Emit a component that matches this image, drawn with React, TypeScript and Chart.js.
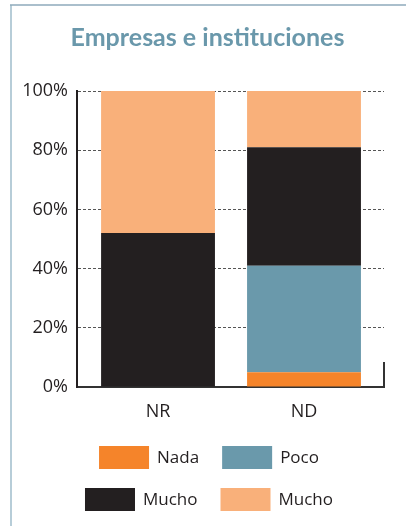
import React, { useEffect, useRef } from 'react';
import { Chart, registerables } from 'chart.js';

Chart.register(...registerables);

const titleText = 'Empresas e instituciones';
const categories = ['NR', 'ND'];
const seriesLabels = ['Nada', 'Poco', 'Mucho', 'Mucho'];
const nadaValues = [0, 5];
const pocoValues = [0, 36];
const muchoDarkValues = [52, 40];
const muchoLightValues = [48, 19];
const seriesColors = ['#f5842a', '#6a99ab', '#231f20', '#f9b07a'];
const yMin = 0;
const yMax = 100;
const yStep = 20;

const TEXT = '#231f20';
const FONT = '"Open Sans", "Noto Sans", sans-serif';

const decorPlugin = {
  id: 'decor',
  beforeDraw(chart: any) {
    const ctx = chart.ctx;
    ctx.save();
    ctx.fillStyle = '#ffffff';
    ctx.fillRect(0, 0, chart.width, chart.height);
    ctx.strokeStyle = '#b7cdd8';
    ctx.lineWidth = 2;
    ctx.beginPath();
    ctx.moveTo(11, 5);
    ctx.lineTo(11, chart.height);
    ctx.stroke();
    ctx.strokeStyle = '#8eaabb';
    ctx.lineWidth = 1.5;
    ctx.beginPath();
    ctx.moveTo(10, 5);
    ctx.lineTo(chart.width, 5);
    ctx.stroke();
    ctx.restore();
  },
  afterDraw(chart: any) {
    const ctx = chart.ctx;
    const area = chart.chartArea;
    ctx.save();
    // small closing tick at the right end of the x axis
    ctx.strokeStyle = '#333333';
    ctx.lineWidth = 2;
    ctx.beginPath();
    ctx.moveTo(area.right, area.bottom - 25);
    ctx.lineTo(area.right, area.bottom + 1);
    ctx.stroke();

    // two-row legend
    const ds = chart.data.datasets;
    const rows = [[0, 1], [2, 3]];
    const rowTops = [446, 488];
    const boxW = 50;
    const boxH = 23;
    const gapText = 8;
    const gapItem = 23;
    const centerX = 209;
    ctx.font = '17px ' + FONT;
    ctx.textBaseline = 'middle';
    ctx.textAlign = 'left';
    rows.forEach((row, ri) => {
      const widths = row.map((i) => boxW + gapText + ctx.measureText(ds[i].label).width);
      const total = widths.reduce((a, b) => a + b, 0) + gapItem * (row.length - 1);
      let x = centerX - total / 2;
      row.forEach((i, k) => {
        const top = rowTops[ri];
        ctx.fillStyle = ds[i].backgroundColor;
        ctx.fillRect(x, top, boxW, boxH);
        ctx.fillStyle = TEXT;
        ctx.fillText(ds[i].label, x + boxW + gapText, top + boxH / 2 + 1);
        x += widths[k] + gapItem;
      });
    });
    ctx.restore();
  },
};

export default function App() {
  const canvasRef = useRef<HTMLCanvasElement | null>(null);

  useEffect(() => {
    const canvas = canvasRef.current;
    if (!canvas) return;
    const values = [nadaValues, pocoValues, muchoDarkValues, muchoLightValues];
    const chart = new Chart(canvas, {
      type: 'bar',
      data: {
        datasets: values.map((v, i) => ({
          label: seriesLabels[i],
          data: v.map((y, ci) => ({ x: ci, y })),
          backgroundColor: seriesColors[i],
          borderWidth: 0,
          barPercentage: 1,
          categoryPercentage: 0.78,
        })),
      },
      options: {
        responsive: false,
        animation: false,
        events: [],
        layout: { padding: { left: 9, right: 0, top: 0, bottom: 0 } },
        plugins: {
          legend: { display: false },
          tooltip: { enabled: false },
          title: {
            display: true,
            text: titleText,
            color: '#6a98ab',
            font: { family: 'Lato, "Open Sans", sans-serif', size: 25, weight: 'bold' },
            padding: { top: 23, bottom: 38 },
          },
        },
        scales: {
          x: {
            type: 'linear',
            stacked: true,
            offset: false,
            min: -0.555,
            max: 1.548,
            grid: { display: false, drawTicks: false },
            border: { display: true, color: '#333333', width: 2 },
            ticks: {
              stepSize: 1,
              includeBounds: false,
              color: TEXT,
              font: { family: FONT, size: 18 },
              padding: 14,
              callback: (v: any) => (Number.isInteger(v) && categories[v] !== undefined ? categories[v] : ''),
            },
            afterFit: (scale: any) => {
              scale.height = 139;
            },
          },
          y: {
            stacked: true,
            min: yMin,
            max: yMax,
            grid: { color: '#555555', lineWidth: 1, drawTicks: false },
            border: { display: true, color: TEXT, width: 2, dash: [3, 2] },
            ticks: {
              stepSize: yStep,
              color: TEXT,
              font: { family: FONT, size: 18 },
              padding: 9,
              callback: (v: any) => v + '%',
            },
            afterFit: (scale: any) => {
              scale.width = 68;
            },
          },
          yRight: {
            type: 'linear',
            position: 'right',
            display: true,
            grid: { display: false, drawTicks: false },
            border: { display: false },
            ticks: { display: false },
            afterFit: (scale: any) => {
              scale.width = 22;
            },
          },
        },
      },
      plugins: [decorPlugin],
    } as any);
    return () => chart.destroy();
  }, []);

  return (
    <div style={{ position: 'absolute', left: 0, top: 0, width: 406, height: 526 }}>
      <canvas ref={canvasRef} width={406} height={526} style={{ display: 'block' }} />
    </div>
  );
}
